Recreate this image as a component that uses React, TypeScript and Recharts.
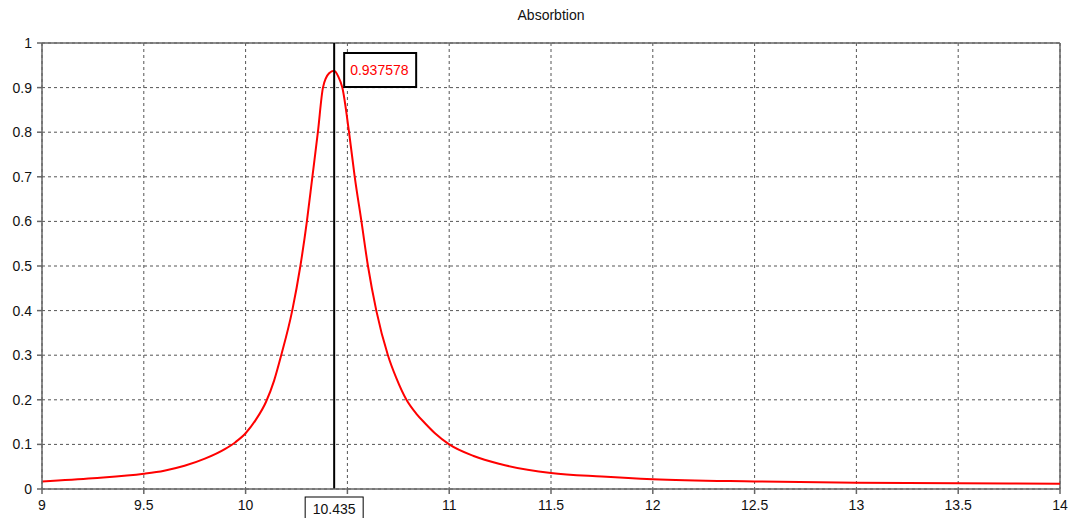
import { LineChart, Line, XAxis, YAxis, CartesianGrid, ReferenceLine } from 'recharts';

// absorption curve
const freq = [
  9.0, 9.25, 9.5, 9.6, 9.7, 9.8, 9.9, 9.95, 10.0, 10.05, 10.1, 10.14, 10.175, 10.229, 10.269,
  10.301, 10.328, 10.355, 10.38, 10.41, 10.435, 10.455, 10.475, 10.508, 10.536, 10.569, 10.601,
  10.642, 10.699, 10.74, 10.79, 10.84, 10.88, 10.93, 11.0, 11.12, 11.25, 11.5, 11.75, 12.0, 12.5,
  13.0, 13.5, 14.0,
];
const absorption = [
  0.017, 0.024, 0.034, 0.041, 0.052, 0.068, 0.09, 0.105, 0.125, 0.155, 0.195, 0.243, 0.3, 0.4, 0.5,
  0.6, 0.7, 0.8, 0.9, 0.932, 0.9376, 0.925, 0.9, 0.8, 0.7, 0.6, 0.5,
  0.4, 0.3, 0.249, 0.2, 0.168, 0.148, 0.125, 0.1, 0.074, 0.056, 0.036, 0.028, 0.022, 0.017,
  0.014, 0.013, 0.012,
];
const xTicks = [9, 9.5, 10, 10.5, 11, 11.5, 12, 12.5, 13, 13.5, 14];
const yTicks = [0, 0.1, 0.2, 0.3, 0.4, 0.5, 0.6, 0.7, 0.8, 0.9, 1];
const markerX = 10.435;
const markerValue = '0.937578';

const data = freq.map((f, i) => ({ f, a: absorption[i] }));

const FONT = '"Liberation Sans", Arial, sans-serif';

function MarkerLabel(props: any) {
  const { viewBox } = props;
  if (!viewBox) return null;
  const x = viewBox.x;
  const top = viewBox.y;
  const bottom = viewBox.y + viewBox.height;
  return (
    <g>
      <rect x={x + 10} y={top + 10} width={72} height={34} fill="#fff" stroke="#000" strokeWidth={2} />
      <text x={x + 16} y={top + 32} fill="#ff0000" fontSize={14} fontFamily={FONT}>
        {markerValue}
      </text>
      <rect x={x - 29} y={bottom + 8} width={58} height={30} fill="#fff" stroke="#000" strokeWidth={1} />
      <text x={x} y={bottom + 25} fill="#111" fontSize={14} fontFamily={FONT} textAnchor="middle">
        {markerX}
      </text>
    </g>
  );
}

export default function App() {
  return (
    <div style={{ position: 'absolute', left: 0, top: 0, width: 1068, height: 518, background: '#fff' }}>
      <div
        style={{
          position: 'absolute',
          top: 7,
          left: 42,
          width: 1018,
          textAlign: 'center',
          fontFamily: FONT,
          fontSize: 14,
          color: '#111',
        }}
      >
        Absorbtion
      </div>
      <LineChart width={1068} height={518} data={data} margin={{ top: 43, right: 8, bottom: 0, left: 0 }}>
        <CartesianGrid stroke="#555" strokeDasharray="3 3" />
        <XAxis
          dataKey="f"
          type="number"
          domain={[9, 14]}
          ticks={xTicks}
          // the cursor box covers the 10.5 label
          tickFormatter={(v: number) => (v === 10.5 ? '' : String(v))}
          height={29}
          tickSize={5}
          tickMargin={6}
          stroke="#666"
          strokeWidth={1.5}
          tick={{ fill: '#111', fontSize: 14, fontFamily: FONT }}
          interval={0}
        />
        <YAxis
          type="number"
          domain={[0, 1]}
          ticks={yTicks}
          width={42}
          tickSize={5}
          tickMargin={5}
          stroke="#666"
          strokeWidth={1.5}
          tick={{ fill: '#111', fontSize: 14, fontFamily: FONT }}
          interval={0}
        />
        <ReferenceLine y={1} stroke="#666" strokeWidth={1.5} />
        <ReferenceLine x={14} stroke="#666" strokeWidth={1.5} />
        <Line
          type="monotone"
          dataKey="a"
          stroke="#ff0000"
          strokeWidth={2}
          dot={false}
          activeDot={false}
          isAnimationActive={false}
        />
        <ReferenceLine x={markerX} stroke="#000" strokeWidth={2} label={<MarkerLabel />} />
      </LineChart>
    </div>
  );
}
